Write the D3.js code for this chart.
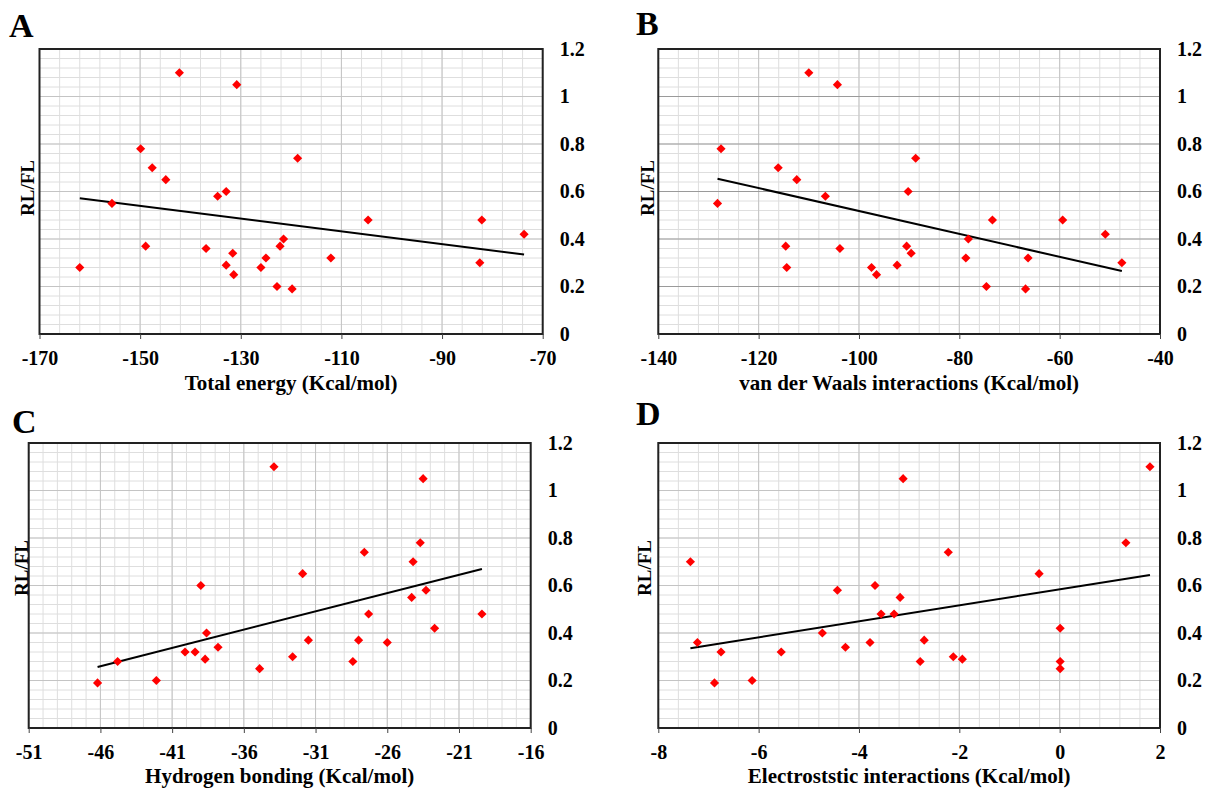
<!DOCTYPE html>
<html>
<head>
<meta charset="utf-8">
<script src="https://cdn.jsdelivr.net/npm/d3@7"></script>
<style>
body { margin: 0; background: #fff; }
svg text { font-family: "Liberation Serif", "Times New Roman", serif; font-weight: bold; fill: #000; }
</style>
</head>
<body>
<div id="chart"></div>
<script>
const ratioTicks = [0, 0.2, 0.4, 0.6, 0.8, 1, 1.2];

// A - total energy
const totalEnergy = [-162, -155.6, -149.9, -148.9, -147.6, -144.9, -142.2, -136.9, -134.6, -132.9, -132.9, -131.6, -131.4, -130.8, -126, -125, -122.8, -122.2, -121.5, -119.8, -118.7, -112.1, -104.7, -82.5, -82.1, -73.7];
const totalRatio = [0.28, 0.55, 0.78, 0.37, 0.70, 0.65, 1.10, 0.36, 0.58, 0.60, 0.29, 0.34, 0.25, 1.05, 0.28, 0.32, 0.20, 0.37, 0.40, 0.19, 0.74, 0.32, 0.48, 0.30, 0.48, 0.42];
const totalTicks = [-170, -150, -130, -110, -90, -70];

// B - van der Waals
const vdwEnergy = [-110, -104.3, -127.5, -116.1, -112.4, -106.7, -88.7, -90.2, -128.2, -114.6, -114.4, -103.8, -97.5, -96.5, -92.4, -90.5, -89.6, -73.4, -78.2, -78.7, -74.6, -66.3, -66.8, -59.4, -50.9, -47.6];
const vdwRatio = [1.10, 1.05, 0.78, 0.70, 0.65, 0.58, 0.74, 0.60, 0.55, 0.37, 0.28, 0.36, 0.28, 0.25, 0.29, 0.37, 0.34, 0.48, 0.40, 0.32, 0.20, 0.32, 0.19, 0.48, 0.42, 0.30];
const vdwTicks = [-140, -120, -100, -80, -60, -40];

// C - hydrogen bonding
const hbondEnergy = [-33.9, -39.0, -23.5, -23.7, -27.6, -24.2, -31.9, -46.2, -44.8, -42.1, -40.1, -39.4, -38.6, -38.7, -37.8, -34.9, -32.6, -31.5, -28.4, -28.0, -27.3, -26.0, -24.3, -23.3, -22.7, -19.4];
const hbondRatio = [1.10, 0.60, 1.05, 0.78, 0.74, 0.70, 0.65, 0.19, 0.28, 0.20, 0.32, 0.32, 0.40, 0.29, 0.34, 0.25, 0.30, 0.37, 0.28, 0.37, 0.48, 0.36, 0.55, 0.58, 0.42, 0.48];
const hbondTicks = [-51, -46, -41, -36, -31, -26, -21, -16];

// D - electrostatic
const elecEnergy = [-7.36, -7.22, -6.75, -6.88, -6.13, -5.55, -4.73, -4.43, -4.27, -3.78, -3.68, -3.56, -3.30, -3.18, -3.12, -2.78, -2.70, -2.22, -2.12, -1.94, -0.41, 0.01, 0.01, 0.01, 1.32, 1.80];
const elecRatio = [0.70, 0.36, 0.32, 0.19, 0.20, 0.32, 0.40, 0.58, 0.34, 0.36, 0.60, 0.48, 0.48, 0.55, 1.05, 0.28, 0.37, 0.74, 0.30, 0.29, 0.65, 0.42, 0.28, 0.25, 0.78, 1.10];
const elecTicks = [-8, -6, -4, -2, 0, 2];

const panels = [
    { letter: "A", xs: totalEnergy, ys: totalRatio, ticks: totalTicks, minor: 4, title: "Total energy (Kcal/mol)",
      box: [39.5, 49, 542.7, 334], hMajor: "#c4c4c4", letterAt: [9, 37], yLabelAt: [34, 188], titleGap: 56 },
    { letter: "B", xs: vdwEnergy, ys: vdwRatio, ticks: vdwTicks, minor: 4, title: "van der Waals interactions (Kcal/mol)",
      box: [658.3, 49, 1160, 334], hMajor: "#9a9a9a", letterAt: [636, 35], yLabelAt: [654, 188], titleGap: 56 },
    { letter: "C", xs: hbondEnergy, ys: hbondRatio, ticks: hbondTicks, minor: 1, title: "Hydrogen bonding (Kcal/mol)",
      box: [28.7, 443, 530.7, 728], hMajor: "#c4c4c4", letterAt: [12, 433], yLabelAt: [28, 568], titleGap: 55 },
    { letter: "D", xs: elecEnergy, ys: elecRatio, ticks: elecTicks, minor: 0.4, title: "Electroststic interactions (Kcal/mol)",
      box: [658.3, 443, 1160, 728], hMajor: "#c4c4c4", letterAt: [636, 425], yLabelAt: [651, 568], titleGap: 55 }
];

const serif = '"Liberation Serif", "Times New Roman", serif';

const svg = d3.select("#chart")
    .append("svg")
    .attr("width", 1209)
    .attr("height", 789);

panels.forEach(p => {
    const [x0, y0, x1, y1] = p.box;
    const xDomain = d3.extent(p.ticks);
    const x = d3.scaleLinear().domain(xDomain).range([x0, x1]);
    const y = d3.scaleLinear().domain([0, 1.2]).range([y1, y0]);
    const g = svg.append("g");

    // minor grid
    const xMinor = d3.range(xDomain[0], xDomain[1] + 1e-9, p.minor);
    const yMinor = d3.range(0, 1.2 + 1e-9, 0.04);
    g.selectAll(".vmin").data(xMinor).join("line")
        .attr("x1", d => x(d)).attr("x2", d => x(d))
        .attr("y1", y0).attr("y2", y1)
        .style("stroke", "#dedede").style("stroke-width", 1);
    g.selectAll(".hmin").data(yMinor).join("line")
        .attr("x1", x0).attr("x2", x1)
        .attr("y1", d => y(d)).attr("y2", d => y(d))
        .style("stroke", "#dedede").style("stroke-width", 1);

    // major grid
    g.selectAll(".vmaj").data(p.ticks).join("line")
        .attr("x1", d => x(d)).attr("x2", d => x(d))
        .attr("y1", y0).attr("y2", y1)
        .style("stroke", "#c4c4c4").style("stroke-width", 1);
    g.selectAll(".hmaj").data(ratioTicks).join("line")
        .attr("x1", x0).attr("x2", x1)
        .attr("y1", d => y(d)).attr("y2", d => y(d))
        .style("stroke", p.hMajor).style("stroke-width", 1.2);

    // frame
    g.append("rect")
        .attr("x", x0).attr("y", y0)
        .attr("width", x1 - x0).attr("height", y1 - y0)
        .style("fill", "none").style("stroke", "#222").style("stroke-width", 2);

    // x axis
    const xAxis = g.append("g")
        .attr("transform", `translate(0,${y1})`)
        .call(d3.axisBottom(x).tickValues(p.ticks).tickSize(5).tickPadding(12).tickFormat(d => String(d)));
    xAxis.select(".domain").remove();
    xAxis.selectAll("line").style("stroke", "#444");
    xAxis.selectAll("text").style("font-size", "20px").style("font-family", serif);

    // right y axis
    const yAxis = g.append("g")
        .attr("transform", `translate(${x1},0)`)
        .call(d3.axisRight(y).tickValues(ratioTicks).tickSize(0).tickPadding(17).tickFormat(d => d3.format("~g")(d)));
    yAxis.select(".domain").remove();
    yAxis.selectAll("text").style("font-size", "20px").style("font-family", serif);

    // trend line (least squares)
    const mx = d3.mean(p.xs), my = d3.mean(p.ys);
    const sxy = d3.sum(p.xs, (v, i) => (v - mx) * (p.ys[i] - my));
    const sxx = d3.sum(p.xs, v => (v - mx) * (v - mx));
    const slope = sxy / sxx, icpt = my - slope * mx;
    g.append("path")
        .datum(d3.extent(p.xs))
        .attr("d", d3.line().x(d => x(d)).y(d => y(icpt + slope * d)))
        .style("fill", "none").style("stroke", "#000").style("stroke-width", 2);

    // points
    const pts = p.xs.map((v, i) => [v, p.ys[i]]);
    g.selectAll(".pt").data(pts).join("path")
        .attr("d", d3.symbol(d3.symbolSquare, 42))
        .attr("transform", d => `translate(${x(d[0])},${y(d[1])}) rotate(45)`)
        .style("fill", "#ff0000");

    // titles
    g.append("text")
        .attr("x", (x0 + x1) / 2).attr("y", y1 + p.titleGap)
        .attr("text-anchor", "middle")
        .style("font-size", "21px")
        .text(p.title);
    g.append("text")
        .attr("transform", `translate(${p.yLabelAt[0]},${p.yLabelAt[1]}) rotate(-90)`)
        .attr("text-anchor", "middle")
        .style("font-size", "19px")
        .text("RL/FL");
    g.append("text")
        .attr("x", p.letterAt[0]).attr("y", p.letterAt[1])
        .style("font-size", "34px")
        .text(p.letter);
});
</script>
</body>
</html>
